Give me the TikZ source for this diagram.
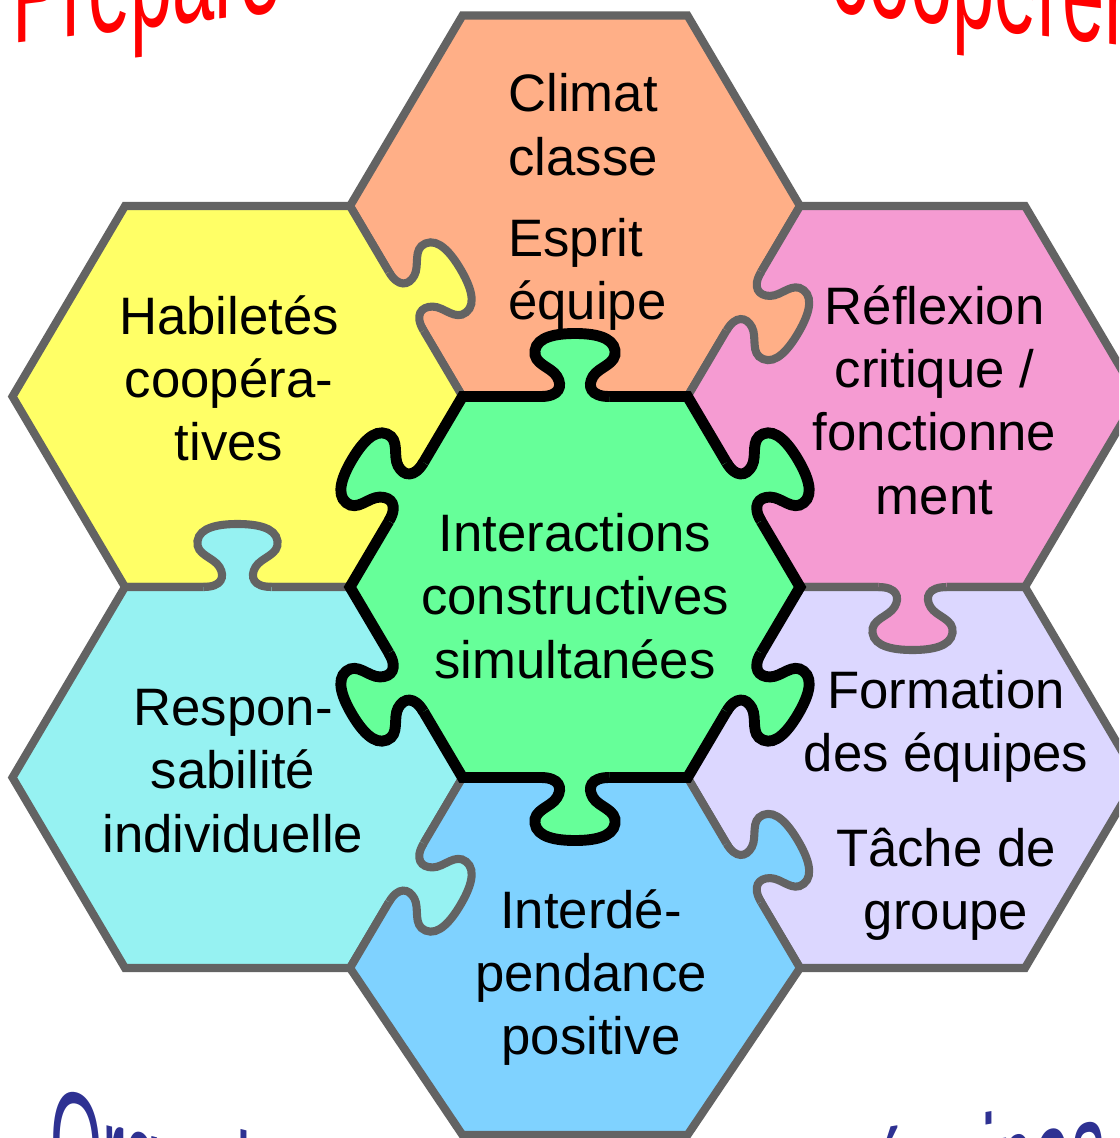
\documentclass[tikz,border=0pt]{standalone}
\usepackage{fontspec}
\setmainfont{Liberation Sans}
\definecolor{climat}{HTML}{FFAF87}
\definecolor{habil}{HTML}{FFFF66}
\definecolor{reflex}{HTML}{F59BD2}
\definecolor{inter}{HTML}{66FF99}
\definecolor{respon}{HTML}{96F2F2}
\definecolor{interdep}{HTML}{7FD2FF}
\definecolor{formation}{HTML}{DCD7FF}
\definecolor{edgegray}{HTML}{636363}
\definecolor{artred}{HTML}{FF0000}
\definecolor{artblue}{HTML}{2E3192}
\tikzstyle{tile} = [draw=edgegray, line width=4.6pt]
\tikzstyle{tab} = [edgegray, line width=4.6pt]
\tikzstyle{hub} = [draw=black, line width=6.2pt]
\tikzstyle{hubtab} = [black, line width=6.2pt]
\tikzstyle{tiletext} = [inner sep=0pt, align=center, font=\fontsize{30}{36}\selectfont]
\tikzstyle{titletext} = [inner sep=0pt, text=artred, font=\fontsize{80}{80}\selectfont, xscale=0.54]
\tikzstyle{subtext} = [inner sep=0pt, text=artblue, font=\fontsize{85}{85}\selectfont, xscale=0.45]
\tikzset{knobat/.style n args={2}{shift={#1}, rotate=#2, y=0.02cm}}
% hexagon with flat top, centre (#1,#2)
\newcommand{\hexa}[2]{(#1-112.5,#2-190.5) -- (#1+112.5,#2-190.5) -- (#1+225,#2) -- (#1+112.5,#2+190.5) -- (#1-112.5,#2+190.5) -- (#1-225,#2) -- cycle}
% one jigsaw tab, local frame: u along the edge, v outward
\newcommand{\knobcurve}{(-34,0) .. controls (-16,0) and (-12,10) .. (-18,20) .. controls (-24,30) and (-42,32) .. (-40,46) .. controls (-38,60) and (-18,63) .. (0,63) .. controls (18,63) and (38,60) .. (40,46) .. controls (42,32) and (24,30) .. (18,20) .. controls (12,10) and (16,0) .. (34,0)}
\newcommand{\puzzletab}[4]{%
  \fill[#1, knobat={#3}{#4}] \knobcurve -- (34,-7) -- (-34,-7) -- cycle;
  \draw[#2, knobat={#3}{#4}] \knobcurve;}

\begin{document}
\begin{tikzpicture}[x=0.02cm, y=-0.02cm]
  \useasboundingbox (0,0) rectangle (1119,1138);
  \fill[white] (0,0) rectangle (1119,1138);
  \clip (0,0) rectangle (1119,1138);

  % title fragments (arched word art, cut by the frame)
  \node[anchor=base west, yslant=0.12, titletext] (prepare) at (12,44) {Prépare};
  \node[anchor=base east, yslant=-0.12, titletext] (cooperer) at (1130,47) {coopérer};
  \node[anchor=base west, yslant=-0.25, subtext] (organiser) at (50,1190) {Organiser};
  \node[anchor=base east, yslant=0.17, subtext] (equipes) at (1105,1200) {équipes};

  % outer ring
  \filldraw[fill=climat, tile] \hexa{575}{206};
  \filldraw[fill=habil, tile] \hexa{237.5}{396.5};
  \filldraw[fill=reflex, tile] \hexa{912.5}{396.5};
  \filldraw[fill=respon, tile] \hexa{237.5}{777.5};
  \filldraw[fill=formation, tile] \hexa{912.5}{777.5};
  \filldraw[fill=interdep, tile] (462.5,777.5) -- (687.5,777.5) -- (800,968) -- (687.5,1135) -- (462.5,1135) -- (350,968) -- cycle;

  \puzzletab{habil}{tab}{(406.25,301.25)}{-59.44}
  \puzzletab{climat}{tab}{(743.75,301.25)}{-120.56}
  \puzzletab{reflex}{tab}{(912.5,587)}{-180}
  \puzzletab{interdep}{tab}{(743.75,872.75)}{-59.44}
  \puzzletab{respon}{tab}{(406.25,872.75)}{-120.56}
  \puzzletab{respon}{tab}{(237.5,587)}{0}

  % centre piece
  \filldraw[fill=inter, hub] \hexa{575}{587};
  \puzzletab{inter}{hubtab}{(575,396.5)}{0}
  \puzzletab{inter}{hubtab}{(743.75,491.75)}{-59.44}
  \puzzletab{inter}{hubtab}{(743.75,682.25)}{-120.56}
  \puzzletab{inter}{hubtab}{(575,777.5)}{180}
  \puzzletab{inter}{hubtab}{(406.25,682.25)}{120.56}
  \puzzletab{inter}{hubtab}{(406.25,491.75)}{59.44}

  % texts
  \node[tiletext, align=left, anchor=west] (climat) at (508,202) {Climat\\classe\\[10pt]Esprit\\équipe};
  \node[tiletext] (habiletes) at (229,378.5) {Habiletés\\coopéra-\\tives};
  \node[tiletext] (reflexion) at (934.5,400) {Réflexion\\critique /\\fonctionne\\ment};
  \node[tiletext] (interactions) at (575,596) {Interactions\\constructives\\simultanées};
  \node[tiletext] (formation) at (946,805.5) {Formation\\des équipes\\[18pt]Tâche de\\groupe};
  \node[tiletext] (responsabilite) at (233,771) {Respon-\\sabilité\\individuelle};
  \node[tiletext] (interdependance) at (591,977.5) {Interdé-\\pendance\\positive};
\end{tikzpicture}
\end{document}
